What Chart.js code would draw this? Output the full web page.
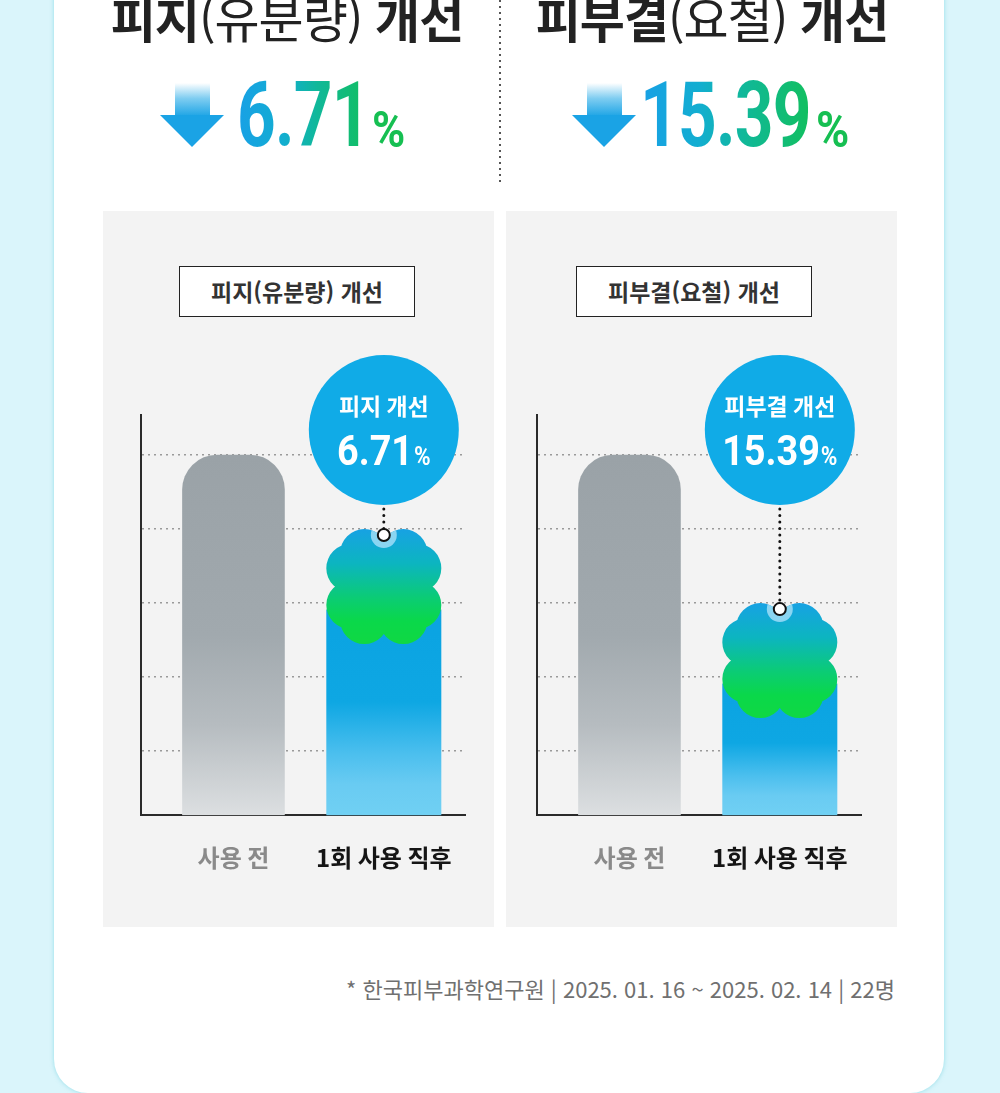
<!DOCTYPE html>
<html lang="ko">
<head>
<meta charset="utf-8">
<script src="https://cdn.jsdelivr.net/npm/chart.js@4.4.1/dist/chart.umd.min.js"></script>
<style>
  html, body { margin: 0; padding: 0; }
  body {
    width: 1000px; height: 1093px; position: relative; overflow: hidden;
    background: #daf5fb; font-family: 'Noto Sans CJK KR', sans-serif;
  }
  .abs { position: absolute; }
  .card {
    position: absolute; left: 54px; top: -40px; width: 890px; height: 1133px;
    background: #fff; border-radius: 34px; box-shadow: 0 0 4px rgba(80, 200, 215, 0.5);
  }
  .title {
    position: absolute; top: -8px; font-size: 49px; font-weight: 700; color: #222;
    line-height: 1; white-space: nowrap; transform: translateX(-50%); letter-spacing: -1px;
  }
  .title .lt { font-weight: 400; }
  .big {
    position: absolute; top: 71px; font-family: Roboto; font-weight: 700; font-size: 90px;
    line-height: 1; letter-spacing: -1px; transform: scaleX(0.75); transform-origin: 0 0;
    white-space: nowrap;
    background: linear-gradient(90deg, #18a0e6 0%, #12aed0 35%, #10b89a 60%, #12bf5e 100%);
    -webkit-background-clip: text; background-clip: text; color: transparent;
  }
  .pct {
    position: absolute; top: 105px; font-family: Roboto; font-weight: 700; font-size: 50px;
    line-height: 1; color: #16bf52; transform: scaleX(0.9); transform-origin: 0 0;
  }
  .divider {
    position: absolute; left: 499px; top: 0; width: 2px; height: 182px;
    background: repeating-linear-gradient(to bottom, #555 0 2px, transparent 2px 6px);
  }
  .panel { position: absolute; top: 211px; width: 391px; height: 716px; background: #f3f3f3; }
  .tag {
    position: absolute; top: 266px; height: 49px; width: 234px; border: 1.5px solid #222;
    background: #fff; box-sizing: content-box; text-align: center; line-height: 49px;
    font-size: 23px; font-weight: 700; color: #333; white-space: nowrap;
  }
  canvas.chart { position: absolute; top: 340px; }
  .foot {
    position: absolute; right: 105px; top: 973px; line-height: 30px; font-size: 22px;
    color: #707070; white-space: nowrap;
  }
</style>
</head>
<body>
<div class="card"></div>

<div class="title" style="left:287px">피지<span class="lt">(유분량)</span> 개선</div>
<div class="title" style="left:712px">피부결<span class="lt">(요철)</span> 개선</div>

<svg class="abs" style="left:160px;top:83px" width="64" height="64" viewBox="0 0 64 64">
  <defs>
    <linearGradient id="stemA" x1="0" y1="0" x2="0" y2="1">
      <stop offset="0" stop-color="#ffffff"/>
      <stop offset="0.45" stop-color="#7fcdf1"/>
      <stop offset="1" stop-color="#1aa3e5"/>
    </linearGradient>
  </defs>
  <rect x="15" y="0" width="35" height="34" fill="url(#stemA)"/>
  <polygon points="0,32 64,32 32,64" fill="#1aa3e5"/>
</svg>
<div class="big" style="left:237px">6.71</div>
<div class="pct" style="left:372px">%</div>

<svg class="abs" style="left:572px;top:83px" width="64" height="64" viewBox="0 0 64 64">
  <defs>
    <linearGradient id="stemB" x1="0" y1="0" x2="0" y2="1">
      <stop offset="0" stop-color="#ffffff"/>
      <stop offset="0.45" stop-color="#7fcdf1"/>
      <stop offset="1" stop-color="#1aa3e5"/>
    </linearGradient>
  </defs>
  <rect x="15" y="0" width="35" height="34" fill="url(#stemB)"/>
  <polygon points="0,32 64,32 32,64" fill="#1aa3e5"/>
</svg>
<div class="big" style="left:640px">15.39</div>
<div class="pct" style="left:816px">%</div>

<div class="divider"></div>

<div class="panel" style="left:103px"></div>
<div class="panel" style="left:506px"></div>
<div class="tag" style="left:179px">피지(유분량) 개선</div>
<div class="tag" style="left:576px">피부결(요철) 개선</div>

<canvas id="sebum" class="chart" width="391" height="560" style="left:103px"></canvas>
<canvas id="texture" class="chart" width="391" height="560" style="left:499px"></canvas>

<div class="foot">* 한국피부과학연구원 | 2025. 01. 16 ~ 2025. 02. 14 | 22명</div>

<script>
// categories and values (y axis 0 = baseline, 100 = top of axis line)
const categories = ['사용 전', '1회 사용 직후'];
const sebumValues = [90, 71.5];
const textureValues = [90, 53];
const gridTicks = [16, 34.5, 53, 71.5, 90];
const gainTitles = ['피지 개선', '피부결 개선'];
const gains = [6.71, 15.39];
const tickColors = ['#8a8a8a', '#151515'];

const KR = "'Noto Sans CJK KR', sans-serif";

// scalloped cloud: 8 bumps (2 per side) around a filled core
function cloudPath(ctx, cx, top, w) {
  const r = w * 0.21, cy = top + w / 2;
  const h = w * 0.17, v = w * 0.16;
  const centers = [
    [cx - h, top + r], [cx + h, top + r],
    [cx - h, top + w - r], [cx + h, top + w - r],
    [cx - w / 2 + r, cy - v], [cx - w / 2 + r, cy + v],
    [cx + w / 2 - r, cy - v], [cx + w / 2 - r, cy + v]
  ];
  ctx.beginPath();
  centers.forEach(([px, py]) => {
    ctx.moveTo(px + r, py);
    ctx.arc(px, py, r, 0, Math.PI * 2);
  });
  ctx.rect(cx - w / 2 + r, top + r, w - 2 * r, w - 2 * r);
}

function drawGain(ctx, cx, baseY, value) {
  const num = value.toFixed(2);
  const sx = 0.9, gap = 1;
  ctx.save();
  ctx.font = 'bold 42px Roboto';
  const nw = ctx.measureText(num).width;
  ctx.font = 'bold 25px Roboto';
  const pw = ctx.measureText('%').width;
  const total = (nw + pw) * sx + gap;
  ctx.translate(cx - total / 2, baseY);
  ctx.scale(sx, 1);
  ctx.fillStyle = '#fff';
  ctx.textAlign = 'left';
  ctx.textBaseline = 'alphabetic';
  ctx.font = 'bold 42px Roboto';
  ctx.fillText(num, 0, 0);
  ctx.font = 'bold 25px Roboto';
  ctx.fillText('%', nw + gap / sx, 0);
  ctx.restore();
}

const cloudPlugin = {
  id: 'cloud',
  afterDatasetsDraw(chart, args, opts) {
    const ctx = chart.ctx;
    const bar = chart.getDatasetMeta(1).data[0];
    const { x, y, base, width } = bar;

    ctx.save();
    // blue body under the cloud
    const top = y + width * 0.7;
    const gBody = ctx.createLinearGradient(0, top, 0, base);
    gBody.addColorStop(0, '#0aa3e2');
    gBody.addColorStop(0.45, '#0ea7e3');
    gBody.addColorStop(0.7, '#4bbfee');
    gBody.addColorStop(0.85, '#69cbf2');
    gBody.addColorStop(1, '#70d0f3');
    ctx.fillStyle = gBody;
    ctx.fillRect(x - width / 2, top, width, base - top);

    // cloud
    const gCloud = ctx.createLinearGradient(0, y, 0, y + width);
    gCloud.addColorStop(0, '#17a2e3');
    gCloud.addColorStop(0.3, '#0cb5c0');
    gCloud.addColorStop(0.6, '#0bcc74');
    gCloud.addColorStop(0.8, '#0ad84a');
    gCloud.addColorStop(1, '#10d843');
    cloudPath(ctx, x, y, width);
    ctx.fillStyle = gCloud;
    ctx.fill();

    // light notch under the marker
    ctx.save();
    cloudPath(ctx, x, y, width);
    ctx.clip();
    ctx.beginPath();
    ctx.arc(x, y + 6, 13, 0, Math.PI * 2);
    ctx.fillStyle = '#8ad5f2';
    ctx.fill();
    ctx.restore();

    // bubble
    const by = chart.chartArea.top + 15, br = 75;
    ctx.beginPath();
    ctx.arc(x, by, br, 0, Math.PI * 2);
    ctx.fillStyle = '#10abe7';
    ctx.fill();

    // dotted connector
    ctx.beginPath();
    ctx.setLineDash([0, 6.5]);
    ctx.lineCap = 'round';
    ctx.lineWidth = 3;
    ctx.strokeStyle = '#111';
    ctx.moveTo(x, by + br + 4);
    ctx.lineTo(x, y);
    ctx.stroke();
    ctx.setLineDash([]);

    // marker
    ctx.beginPath();
    ctx.arc(x, y + 6, 6, 0, Math.PI * 2);
    ctx.fillStyle = '#fff';
    ctx.fill();
    ctx.lineWidth = 2;
    ctx.strokeStyle = '#111';
    ctx.stroke();

    // bubble texts
    ctx.fillStyle = '#fff';
    ctx.textAlign = 'center';
    ctx.textBaseline = 'alphabetic';
    ctx.font = 'bold 23px ' + KR;
    ctx.fillText(opts.title, x, by - 15);
    drawGain(ctx, x, by + 35, opts.gain);
    ctx.restore();
  }
};

function makeChart(id, values, idx) {
  const ctx = document.getElementById(id);
  return new Chart(ctx, {
    type: 'bar',
    data: {
      datasets: [
        {
          data: [{ x: 0, y: values[0] }],
          barThickness: 102,
          grouped: false,
          borderRadius: { topLeft: 35, topRight: 35, bottomLeft: 0, bottomRight: 0 },
          borderSkipped: false,
          backgroundColor: (c) => {
            const ch = c.chart;
            if (!ch.chartArea) return '#a0a8ad';
            const yTop = ch.scales.y.getPixelForValue(values[0]);
            const g = ch.ctx.createLinearGradient(0, yTop, 0, ch.chartArea.bottom);
            g.addColorStop(0, '#9aa2a7');
            g.addColorStop(0.5, '#a1a9ae');
            g.addColorStop(0.75, '#b6bcc0');
            g.addColorStop(1, '#dcdfe1');
            return g;
          }
        },
        {
          data: [{ x: 1, y: values[1] }],
          barThickness: 115,
          grouped: false,
          backgroundColor: 'rgba(0,0,0,0)'
        }
      ]
    },
    options: {
      responsive: false,
      animation: false,
      layout: { padding: { left: 38, right: 29, top: 75, bottom: 0 } },
      plugins: {
        legend: { display: false },
        tooltip: { enabled: false },
        cloud: { title: gainTitles[idx], gain: gains[idx] }
      },
      scales: {
        x: {
          type: 'linear',
          offset: false,
          min: -0.615,
          max: 1.54,
          afterBuildTicks: (s) => { s.ticks = categories.map((c, i) => ({ value: i })); },
          grid: { display: false, drawTicks: false },
          border: { display: true, color: '#2a2a2a', width: 2 },
          ticks: {
            padding: 28,
            autoSkip: false,
            maxRotation: 0,
            font: { family: KR, size: 24, weight: 'bold' },
            color: (c) => tickColors[c.index],
            callback: (v) => categories[v]
          }
        },
        y: {
          min: 0,
          max: 100,
          afterBuildTicks: (s) => { s.ticks = gridTicks.map((v) => ({ value: v })); },
          ticks: { display: false },
          grid: { color: '#9a9a9a', lineWidth: 1.5, drawTicks: false },
          border: { display: true, color: '#2a2a2a', width: 2, dash: [2, 4] }
        }
      }
    },
    plugins: [cloudPlugin]
  });
}

makeChart('sebum', sebumValues, 0);
makeChart('texture', textureValues, 1);
</script>
</body>
</html>
